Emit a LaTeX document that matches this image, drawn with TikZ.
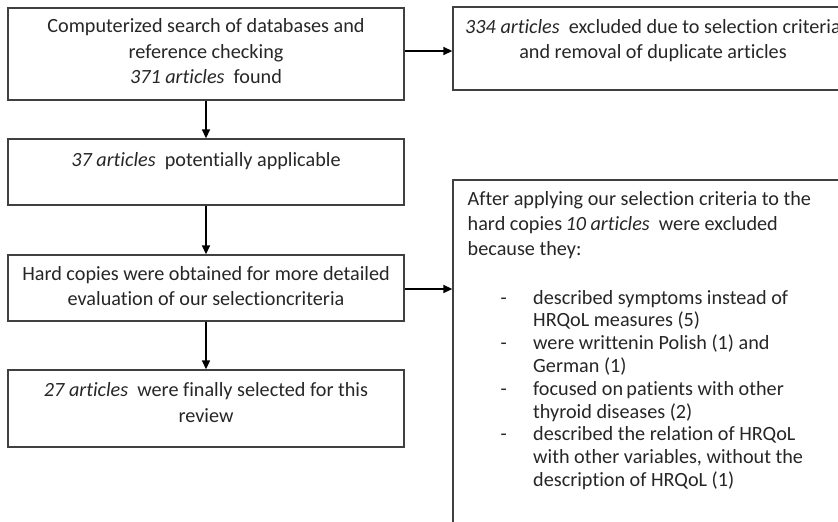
\documentclass[tikz,border=0pt]{standalone}
\usepackage{fontspec}
\setmainfont{Carlito}[Ligatures=NoCommon]
\usetikzlibrary{arrows.meta}
\definecolor{ln}{HTML}{404040}
\definecolor{tx}{HTML}{262626}
\begin{document}
\begin{tikzpicture}[x=1pt,y=-1pt,
  box/.style={draw=ln,line width=1.3pt,inner sep=0,fill=none},
  arr/.style={-{Triangle[length=9pt,width=8pt]},line width=1.4pt,black},
  txt/.style={text=tx,font=\fontsize{20.2}{24}\selectfont,inner sep=0,anchor=base},
  ltxt/.style={txt,anchor=base west}]
\useasboundingbox (0,0) rectangle (838,522);
\clip (0,0) rectangle (838,522);
% boxes
\node[box,minimum width=396pt,minimum height=92pt] (b1) at (206,54) {};
\node[box,minimum width=400pt,minimum height=83pt] (b2) at (653,48.5) {};
\node[box,minimum width=396pt,minimum height=66pt] (b3) at (206,172) {};
\node[box,minimum width=396pt,minimum height=66pt] (b4) at (206,288) {};
\node[box,minimum width=396pt,minimum height=77pt] (b5) at (206,408.5) {};
\node[box,minimum width=427pt,minimum height=381pt] (b6) at (666.5,370.5) {};
% texts
\node[txt] (t1a) at (206,32.7) {Computerized search of databases and};
\node[txt] (t1b) at (206,58) {reference checking};
\node[txt] (t1c) at (206,83) {\textit{371 articles}\ \ found};
\node[txt] (t2a) at (653,33) {\textit{334 articles}\ \ excluded due to selection criteria};
\node[txt] (t2b) at (653,58.5) {and removal of duplicate articles};
\node[txt] (t3) at (206,166) {\textit{37 articles}\ \ potentially applicable};
\node[txt] (t4a) at (206,280) {Hard copies were obtained for more detailed};
\node[txt] (t4b) at (206,305.5) {evaluation of our selectioncriteria};
\node[txt] (t5a) at (206,396) {\textit{27 articles}\ \ were finally selected for this};
\node[txt] (t5b) at (206,422) {review};
\node[ltxt] (h1) at (467.5,205) {After applying our selection criteria to the};
\node[ltxt] (h2) at (467.5,230.3) {hard copies\,\textit{10 articles}\ \ were excluded};
\node[ltxt] (h3) at (467.5,255.6) {because they:};
\foreach \i/\y in {1/304,2/349.6,3/395.2,4/440.8}
  \node[ltxt] (d\i) at (500.5,\y) {-};
\foreach \i/\y/\s in {1/304/described symptoms instead of,
                      2/326.8/HRQoL measures (5),
                      3/349.6/were writtenin Polish (1) and,
                      4/372.4/German (1),
                      5/395.2/focused on\,patients with other,
                      6/418/thyroid diseases (2),
                      7/440.8/described the relation of HRQoL,
                      8/463.6/{with other variables, without the},
                      9/486.4/description of HRQoL (1)}
  \node[ltxt] (l\i) at (533,\y) {\s};
% connectors
\draw[arr] ([yshift=3pt]b1.east) -- ([yshift=3pt]b1.east -| b2.west);
\draw[arr] (b1.south) -- (b3.north);
\draw[arr] (b3.south) -- (b4.north);
\draw[arr] (b4.south) -- (b5.north);
\draw[arr] ([yshift=-1pt]b4.east) -- ([yshift=-1pt]b4.east -| b6.west);
\end{tikzpicture}
\end{document}
